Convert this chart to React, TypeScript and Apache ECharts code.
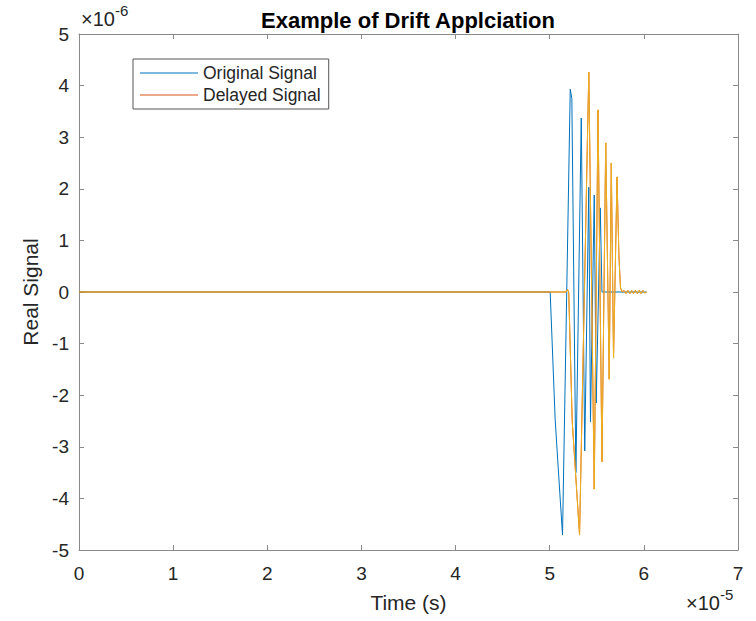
import React, { useEffect, useRef } from "react";
import * as echarts from "echarts";

// time in units of 1e-5 s, signal in units of 1e-6
const originalTime = [0, 5.005, 5.058, 5.136, 5.218, 5.235, 5.278, 5.335, 5.372, 5.415, 5.433, 5.473, 5.494, 5.537, 5.555, 6.026];
const originalValue = [0, 0, -2.48, -4.71, 3.93, 3.75, -3.5, 3.37, -3.08, 2.03, -2.52, 1.88, -2.15, 1.63, 0, 0];

const delayedTime = [0, 5.175, 5.189, 5.202, 5.239, 5.317, 5.415, 5.473, 5.513, 5.555, 5.595, 5.632, 5.654, 5.678, 5.715, 5.735, 5.752, 5.771, 5.79, 5.81, 5.83, 5.85, 5.87, 5.89, 5.91, 5.93, 5.95, 5.97, 5.99, 6.01, 6.03];
const delayedValue = [0, 0, 0.05, 0, -2.5, -4.71, 4.26, -3.82, 3.53, -3.29, 2.89, -1.69, 2.5, -1.28, 2.23, 0.7, 0.08, 0, 0.03, -0.03, 0.03, -0.03, 0.03, -0.03, 0.03, -0.03, 0.03, -0.03, 0.03, -0.02, 0];

const seriesNames = ["Original Signal", "Delayed Signal"];
const xTicks = [0, 1, 2, 3, 4, 5, 6, 7];
const yTicks = [-5, -4, -3, -2, -1, 0, 1, 2, 3, 4, 5];

const FONT = "'Liberation Sans', Arial, Helvetica, sans-serif";
const AXIS = "#8a8a8a";
const TEXT = "#262626";

export default function App() {
  const ref = useRef<HTMLDivElement>(null);
  useEffect(() => {
    document.body.style.margin = "0";
    const chart = echarts.init(ref.current!, null, { renderer: "svg" });
    const orig = originalTime.map((t, i) => [t, originalValue[i]]);
    const del = delayedTime.map((t, i) => [t, delayedValue[i]]);
    const xMin = xTicks[0], xMax = xTicks[xTicks.length - 1];
    const yMin = yTicks[0], yMax = yTicks[yTicks.length - 1];
    const baseAxis = {
      type: "value",
      interval: 1,
      axisLine: { show: true, onZero: false, lineStyle: { color: AXIS, width: 1 } },
      axisTick: { show: true, inside: true, length: 5, lineStyle: { color: AXIS } },
      splitLine: { show: false },
    };
    chart.setOption({
      animation: false,
      backgroundColor: "#fff",
      textStyle: { fontFamily: FONT },
      title: {
        text: "Example of Drift Applciation",
        left: 403,
        textAlign: "center",
        top: 4,
        textStyle: { fontFamily: FONT, fontSize: 22, fontWeight: "bold", color: "#000" },
      },
      grid: { left: 79, right: 18, top: 34, bottom: 71 },
      legend: {
        data: seriesNames,
        orient: "vertical",
        left: 133,
        top: 59,
        icon: "rect",
        itemWidth: 58,
        itemHeight: 1.2,
        itemGap: 4,
        padding: [5, 8, 5, 7],
        borderColor: "#555",
        borderWidth: 1,
        backgroundColor: "#fff",
        textStyle: { fontFamily: FONT, fontSize: 17.5, color: TEXT, padding: [0, 0, 0, 0] },
      },
      xAxis: [
        {
          ...baseAxis,
          position: "bottom",
          min: xMin,
          max: xMax,
          axisLabel: { margin: 14, fontSize: 19, color: TEXT, fontFamily: FONT },
          name: "Time (s)",
          nameLocation: "middle",
          nameGap: 42,
          nameTextStyle: { fontSize: 21, color: TEXT, fontFamily: FONT },
        },
        { ...baseAxis, position: "top", min: xMin, max: xMax, axisLabel: { show: false } },
      ],
      yAxis: [
        {
          ...baseAxis,
          position: "left",
          min: yMin,
          max: yMax,
          axisLabel: { margin: 10, fontSize: 19, color: TEXT, fontFamily: FONT },
          name: "Real Signal",
          nameLocation: "middle",
          nameGap: 36,
          nameTextStyle: { fontSize: 21, color: TEXT, fontFamily: FONT },
        },
        { ...baseAxis, position: "right", min: yMin, max: yMax, axisLabel: { show: false } },
      ],
      graphic: [
        {
          type: "text",
          left: 81,
          top: 3,
          style: {
            text: "{a|×10}{b|-6}",
            rich: {
              a: { fontSize: 20, fontFamily: FONT, fill: TEXT, verticalAlign: "bottom", lineHeight: 26 },
              b: { fontSize: 15, fontFamily: FONT, fill: TEXT, verticalAlign: "top", lineHeight: 26 },
            },
          },
        },
        {
          type: "text",
          left: 686,
          top: 587,
          style: {
            text: "{a|×10}{b|-5}",
            rich: {
              a: { fontSize: 20, fontFamily: FONT, fill: TEXT, verticalAlign: "bottom", lineHeight: 26 },
              b: { fontSize: 15, fontFamily: FONT, fill: TEXT, verticalAlign: "top", lineHeight: 26 },
            },
          },
        },
      ],
      series: [
        {
          name: seriesNames[0],
          type: "line",
          data: orig,
          showSymbol: false,
          color: "#0072BD",
          lineStyle: { width: 1, color: "#0072BD" },
        },
        {
          name: seriesNames[1],
          type: "line",
          data: del,
          showSymbol: false,
          color: "#D95319",
          lineStyle: { width: 1, color: "#D95319" },
        },
        {
          name: "Delayed Signal (plotted)",
          type: "line",
          data: del,
          showSymbol: false,
          color: "#EDB120",
          lineStyle: { width: 1, color: "#EDB120" },
        },
      ],
    });
    return () => chart.dispose();
  }, []);
  return <div ref={ref} style={{ width: 756, height: 621 }} />;
}
